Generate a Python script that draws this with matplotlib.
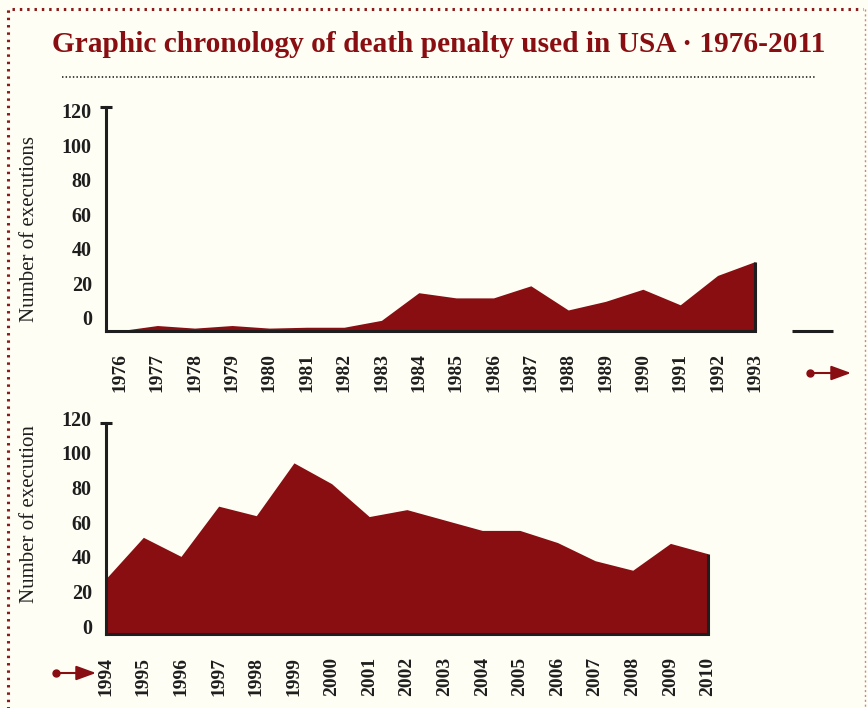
import matplotlib
matplotlib.use("Agg")
import matplotlib.pyplot as plt
from matplotlib.lines import Line2D
from matplotlib.transforms import ScaledTranslation

plt.rcParams['font.family'] = ['Liberation Serif', 'DejaVu Serif']

# executions per year
years_a = list(range(1976, 1994))
execs_a = [0, 3, 1.5, 3, 1.5, 2, 2, 6, 22, 19, 19, 26, 12, 17, 24, 15, 32, 40]
years_b = list(range(1994, 2011))
execs_b = [32, 56, 45, 74, 68.5, 99, 87, 68, 72, 66, 60, 60, 53, 42.5, 37, 52.5, 46.5]
y_ticks = [0, 20, 40, 60, 80, 100, 120]

title = "Graphic chronology of death penalty used in USA \u00b7 1976-2011"
ylabel_a = "Number of executions"
ylabel_b = "Number of execution"

bg = '#FFFEF4'
red = '#880E12'
ink = '#1E1E1E'

W, H = 868, 708
fig = plt.figure(figsize=(W / 100, H / 100), dpi=100, facecolor=bg)


def px(x, y):
    # pixel position (from top-left) -> figure fraction
    return x / W, 1 - y / H


def panel(rect, years, execs, xlim, ylim, label, label_y, shift_px):
    ax = fig.add_axes(rect, facecolor=bg)
    ax.fill_between(years, execs, 0, color=red, lw=0, zorder=2)
    ax.vlines(years[-1], 0, execs[-1], color=ink, lw=2.2, zorder=3)
    ax.set_xlim(*xlim)
    ax.set_ylim(*ylim)
    for s in ['top', 'right']:
        ax.spines[s].set_visible(False)
    for s in ['left', 'bottom']:
        ax.spines[s].set_color(ink)
        ax.spines[s].set_linewidth(2.2)
        ax.spines[s].set_zorder(4)
    ax.spines['bottom'].set_bounds(xlim[0], years[-1])
    ax.set_xticks(years)
    ax.set_xticklabels([str(y) for y in years], rotation=90, fontweight='bold',
                       fontsize=14, color=ink)
    ax.set_yticks(y_ticks)
    ax.set_yticklabels([str(v) for v in y_ticks], fontweight='bold', fontsize=14.5,
                       color=ink)
    ax.set_yticks([ylim[1]], minor=True)
    ax.tick_params(axis='x', length=0, pad=16)
    ax.tick_params(axis='y', which='major', length=0, pad=10)
    ax.tick_params(axis='y', which='minor', length=8, width=2.2, color=ink,
                   direction='inout')
    off = ScaledTranslation(0, shift_px / 100, fig.dpi_scale_trans)
    for lab in ax.get_yticklabels():
        lab.set_transform(lab.get_transform() + off)
    ax.set_ylabel(label, fontsize=15, color=ink, va='center')
    ax.yaxis.set_label_coords((30 - 105.7) / 744.3, label_y)
    return ax


# top panel: 1976-1993
ax1 = panel([105.7 / W, 1 - 330.7 / H, 744.3 / W, 224 / H],
            years_a, execs_a, (1975.617, 1995.545), (0, 129.7),
            ylabel_a, (330.7 - 229) / 224, 12.7)
ax1.hlines(0, years_a[-1] + 1, years_a[-1] + 2.1, color=ink, lw=2.2, clip_on=False)

# bottom panel: 1994-2010
ax2 = panel([105.7 / W, 1 - 634.3 / H, 744.3 / W, 211.6 / H],
            years_b, execs_b, (1994, 2013.77), (0, 122.2),
            ylabel_b, (634.3 - 514) / 211.6, 8.3)

# title and dotted rule
fig.text(*px(439, 45), title, ha='center', va='center', fontsize=21.2,
         fontweight='bold', color=red)
fig.add_artist(Line2D([62 / W, 815 / W], [1 - 77 / H] * 2, color='#333333',
                      lw=1.3, ls=(0, (0.8, 1.2)), transform=fig.transFigure))

# dotted frame
fig.add_artist(Line2D([8 / W, 8 / W, 863 / W], [-0.05, 1 - 9 / H, 1 - 9 / H],
                      color='#8B1A1A', lw=2.2, ls=(0, (0.8, 1.6)),
                      transform=fig.transFigure))
fig.add_artist(Line2D([865 / W, 865 / W], [1 - 9 / H, -0.05], color='#C48A8A',
                      lw=1.0, ls=(0, (1.5, 2)), transform=fig.transFigure))

# continuation arrows
for (x0, x1, y) in [(810, 851, 373), (56, 96, 673)]:
    fig.add_artist(Line2D([x0 / W], [1 - y / H], marker='o', ms=5, color=red,
                          transform=fig.transFigure))
    ax1.annotate('', xy=px(x1, y), xytext=px(x0, y), xycoords='figure fraction',
                 textcoords='figure fraction',
                 arrowprops=dict(arrowstyle='-|>,head_length=0.6,head_width=0.22',
                                 mutation_scale=20, color=red, lw=1.5,
                                 shrinkA=0, shrinkB=0))

fig.savefig("out.png", dpi=100, facecolor=bg)
